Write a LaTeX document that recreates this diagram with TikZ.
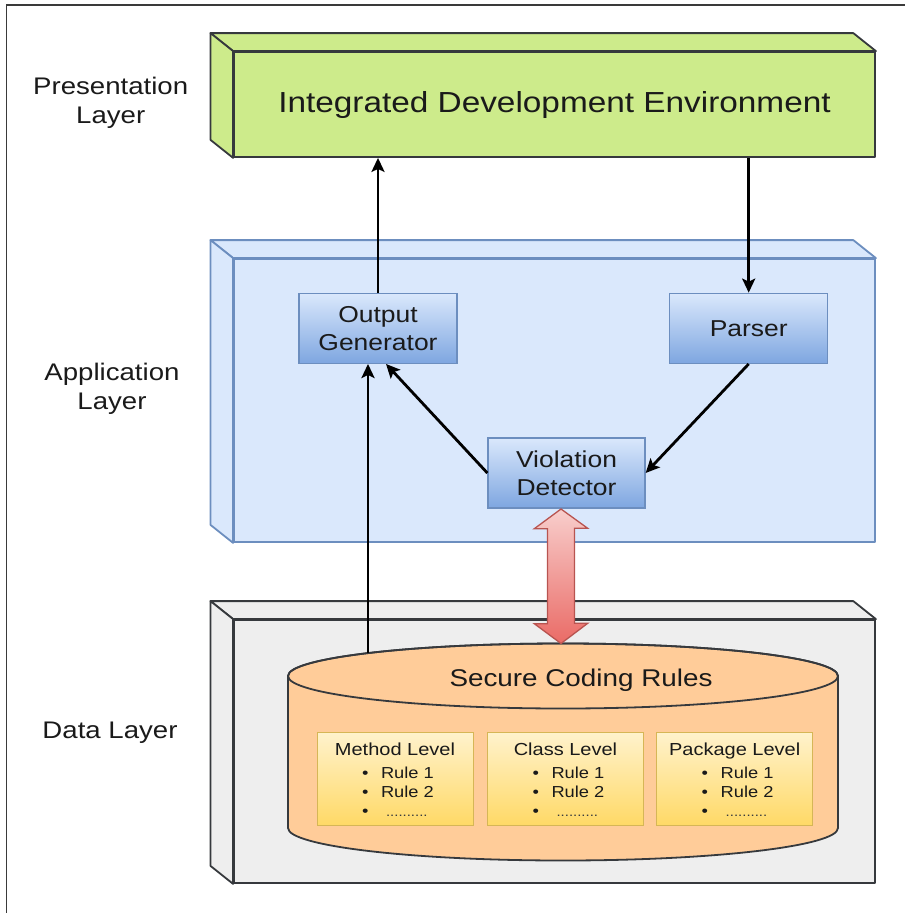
\documentclass[tikz,border=0pt]{standalone}
\usepackage{fontspec}
\setmainfont[FakeStretch=1.15]{Liberation Sans}
\usetikzlibrary{arrows.meta,calc}

\definecolor{ink}{HTML}{1A1A1A}
\definecolor{frameline}{HTML}{3A3A3A}
\definecolor{darkedge}{HTML}{36393D}
\definecolor{idegreen}{HTML}{CDEB8B}
\definecolor{appfill}{HTML}{DAE8FC}
\definecolor{appedge}{HTML}{6C8EBF}
\definecolor{appdeep}{HTML}{7EA6E0}
\definecolor{datafill}{HTML}{EEEEEE}
\definecolor{cylfill}{HTML}{FFCC99}
\definecolor{rulelight}{HTML}{FFF2CC}
\definecolor{ruledeep}{HTML}{FFD966}
\definecolor{ruleedge}{HTML}{D6B656}
\definecolor{redlight}{HTML}{F8CECC}
\definecolor{reddeep}{HTML}{EA6B66}
\definecolor{rededge}{HTML}{B85450}

\tikzset{
  layerface/.style={line width=1.8pt, line join=round, minimum width=641pt, inner sep=0pt},
  idebox/.style={layerface, draw=darkedge, fill=idegreen, font=\fontsize{29}{34}\selectfont},
  appbox/.style={layerface, draw=appedge, fill=appfill},
  databox/.style={layerface, draw=darkedge, fill=datafill},
  compbox/.style={draw=appedge, line width=1.3pt, top color=appfill, bottom color=appdeep,
    minimum width=158pt, minimum height=70pt, inner sep=0pt, align=center,
    font=\fontsize{23}{28}\selectfont},
  rulebox/.style={draw=ruleedge, line width=1pt, top color=rulelight, bottom color=ruledeep,
    minimum width=156pt, minimum height=93pt, inner sep=0pt},
  layerlabel/.style={align=center, font=\fontsize{24}{29}\selectfont},
  rulehead/.style={anchor=base, font=\fontsize{17.4}{20}\selectfont},
  ruleitem/.style={anchor=base west, font=\fontsize{15.9}{19}\selectfont},
  flow/.style={line width=2.8pt, draw=black, -{Stealth[length=14pt, width=13pt, inset=3pt]}},
}

% back faces of a box drawn as a block seen from upper left
\newcommand{\blockdepth}[2]{%
  \draw[#2, line join=round] (#1.north west) -- ([xshift=-22.6pt,yshift=18pt]#1.north west)
    -- ([xshift=-22.6pt,yshift=18pt]#1.north east) -- (#1.north east) -- cycle;
  \draw[#2, line join=round] (#1.north west) -- ([xshift=-22.6pt,yshift=18pt]#1.north west)
    -- ([xshift=-22.6pt,yshift=18pt]#1.south west) -- (#1.south west) -- cycle;
}

\begin{document}
\begin{tikzpicture}[x=1pt, y=-1pt, every node/.style={text=ink}]
\useasboundingbox (0,0) rectangle (905,913);
\fill[white] (0,0) rectangle (905,913);

% outer frame
\draw[frameline, line width=1.8pt] (6.5,913) -- (6.5,5) -- (905,5);

% layer captions
\node[layerlabel] (lpres) at (110.7,103) {Presentation\\Layer};
\node[layerlabel] (lapp)  at (112,388.5) {Application\\Layer};
\node[layerlabel] (ldata) at (110,733) {Data Layer};

% presentation layer
\node[idebox, minimum height=105pt] (ide) at (554.5,104.5) {Integrated Development Environment};
\blockdepth{ide}{draw=darkedge, fill=idegreen, line width=1.8pt}

% application layer
\node[appbox, minimum height=283pt] (app) at (554.5,400.5) {};
\blockdepth{app}{draw=appedge, fill=appfill, line width=1.8pt}

% data layer
\node[databox, minimum height=263pt] (data) at (554.5,751.5) {};
\blockdepth{data}{draw=darkedge, fill=datafill, line width=1.8pt}

% components
\node[compbox] (og) at (378,328.3) {Output\\Generator};
\node[compbox] (parser) at (748.7,328.3) {Parser};
\node[compbox, minimum width=157pt] (vd) at (566.5,473) {Violation\\Detector};

% rule store cylinder
\filldraw[draw=darkedge, fill=cylfill, line width=1.8pt]
  (288,676) -- (288,828) arc[start angle=180, end angle=360, x radius=275pt, y radius=32.5pt]
  -- (838,676) arc[start angle=0, end angle=180, x radius=275pt, y radius=32.5pt] -- cycle;
\draw[darkedge, line width=1.8pt] (563,676) ellipse [x radius=275pt, y radius=32.5pt];
\node[font=\fontsize{24.2}{29}\selectfont] (dbl) at (581,680) {Secure Coding Rules};
\coordinate (dbtop) at (561,643.5);
\coordinate (dbside) at (368,653);

% rule groups
\node[rulebox] (mlev) at (395,779) {};
\node[rulebox] (clev) at (565.5,779) {};
\node[rulebox] (plev) at (734.7,779) {};

\foreach \b/\h in {mlev/Method Level, clev/Class Level, plev/Package Level}{
  \node[rulehead] (\b-h) at (\b.center |- 0,755.2) {\h};
  \node[ruleitem] (\b-r1) at ([xshift=42pt]\b.west |- 0,778.7) {\makebox[19pt][l]{•}Rule 1};
  \node[ruleitem] (\b-r2) at ([xshift=42pt]\b.west |- 0,797.5) {\makebox[19pt][l]{•}Rule 2};
  \node[ruleitem] (\b-r3) at ([xshift=42pt]\b.west |- 0,816.4)
    {\makebox[24pt][l]{•}{\fontsize{13}{13}\selectfont\color{darkedge}..........}};
}

% flows between components
\draw[flow] (og.north) -- (og.north |- ide.south);
\draw[flow] (parser.north |- ide.south) -- (parser.north);
\draw[flow] (parser.south) -- (vd.east);
\draw[flow] (vd.west) -- ([xshift=8pt]og.south);
\draw[flow] (dbside) -- (dbside |- og.south);

% two-way exchange between detector and rule store
\coordinate (rt) at (561,509);
\shade[top color=redlight, bottom color=reddeep, draw=rededge, line width=1.3pt, line join=miter]
  (rt) -- ++(26.7,19.3) -- ++(-13.2,0) -- ++(0,95) -- ++(13.2,0) -- (dbtop)
  -- ++(-26.7,-19.8) -- ++(13.2,0) -- ++(0,-95) -- ++(-13.2,0) -- cycle;
\end{tikzpicture}
\end{document}
